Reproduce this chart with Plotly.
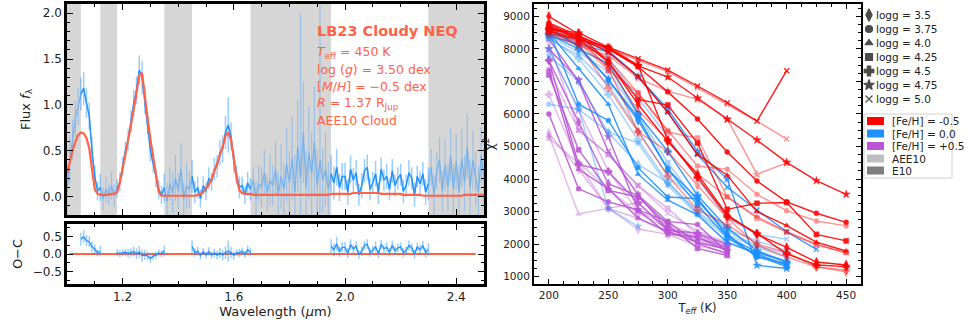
import numpy as np
import plotly.graph_objects as go

# ---- spectrum (left) ----
wave = np.round(np.arange(1.00, 2.505, 0.01), 2)

flux = [
    0.05, 0.40, 0.62, 0.85, 0.98, 1.12, 1.18, 1.02, 0.88, 0.50,
    0.22, 0.06, 0.10, -0.02, 0.08, 0.03, 0.12, 0.01, 0.09, 0.16,
    0.33, 0.50, 0.62, 0.82, 1.02, 1.16, 1.38, 1.30, 1.05, 0.80,
    0.50, 0.36, 0.20, 0.08, 0.02, 0.10, -0.05, 0.14, 0.04, 0.20,
    0.06, 0.30, -0.03, 0.12, 0.08, 0.22, 0.05, 0.10, -0.02, 0.12,
    0.06, 0.20, 0.16, 0.30, 0.33, 0.48, 0.52, 0.70, 0.78, 0.66,
    0.38, 0.24, 0.10, 0.12, 0.02, 0.15, 0.08, 0.18, -0.02, 0.14,
    0.10, 0.26, 0.04, 0.18, 0.12, 0.30, 0.02, 0.22, 0.08, 0.35,
    0.15, 0.42, 0.05, 0.55, 0.20, 0.70, 0.10, 0.48, 0.25, 0.60,
    0.12, 0.40, 0.18, 0.30, 0.08, 0.25, 0.15, 0.32, 0.10, 0.22,
    0.22, 0.05, 0.30, 0.18, 0.26, 0.02, 0.12, 0.28, 0.32, 0.08,
    0.15, 0.25, 0.04, 0.30, 0.18, 0.22, 0.08, 0.28, 0.12, 0.20,
    0.24, 0.06, 0.12, 0.26, 0.20, 0.02, 0.22, 0.14, 0.25, 0.05,
    0.14, 0.32, 0.02, 0.28, 0.40, 0.06, 0.35, 0.10, 0.45, 0.08,
    0.38, 0.05, 0.42, 0.15, 0.55, 0.10, 0.40, 0.20, 0.05, 0.45, 0.20,
]

flux_err = [
    0.30, 0.25, 0.22, 0.20, 0.20, 0.18, 0.18, 0.16, 0.15, 0.15,
    0.12, 0.10, 0.15, 0.12, 0.14, 0.12, 0.15, 0.12, 0.10, 0.10,
    0.10, 0.10, 0.12, 0.12, 0.14, 0.15, 0.16, 0.18, 0.15, 0.12,
    0.12, 0.10, 0.10, 0.10, 0.10, 0.15, 0.20, 0.18, 0.22, 0.25,
    0.20, 0.28, 0.18, 0.25, 0.20, 0.18, 0.12, 0.12, 0.10, 0.10,
    0.10, 0.12, 0.10, 0.12, 0.12, 0.14, 0.15, 0.18, 0.30, 0.15,
    0.12, 0.10, 0.12, 0.10, 0.10, 0.12, 0.12, 0.15, 0.18, 0.20,
    0.22, 0.25, 0.20, 0.28, 0.22, 0.30, 0.25, 0.35, 0.28, 0.40,
    0.35, 0.45, 0.40, 0.50, 1.80, 0.55, 0.40, 0.50, 0.45, 0.60,
    0.40, 1.70, 0.35, 0.40, 0.30, 0.20, 0.18, 0.20, 0.15, 0.15,
    0.15, 0.14, 0.15, 0.13, 0.14, 0.12, 0.14, 0.13, 0.14, 0.12,
    0.12, 0.14, 0.12, 0.13, 0.12, 0.14, 0.12, 0.13, 0.12, 0.12,
    0.12, 0.13, 0.12, 0.14, 0.12, 0.13, 0.12, 0.14, 0.13, 0.14,
    0.18, 0.20, 0.22, 0.20, 0.25, 0.22, 0.28, 0.25, 0.30, 0.28,
    0.30, 0.28, 0.32, 0.30, 0.35, 0.30, 0.32, 0.30, 0.28, 0.30, 0.28,
]

model = [
    0.25, 0.38, 0.50, 0.60, 0.67, 0.70, 0.69, 0.64, 0.53, 0.30,
    0.08, 0.03, 0.02, 0.02, 0.02, 0.02, 0.03, 0.03, 0.05, 0.15,
    0.30, 0.45, 0.60, 0.78, 0.95, 1.15, 1.32, 1.35, 1.08, 0.85,
    0.63, 0.42, 0.23, 0.05, 0.01, 0.01, 0.01, 0.01, 0.01, 0.01,
    0.01, 0.01, 0.01, 0.01, 0.01, 0.01, 0.01, 0.02, 0.03, 0.05,
    0.09, 0.13, 0.19, 0.27, 0.36, 0.45, 0.55, 0.66, 0.70, 0.62,
    0.42, 0.20, 0.07, 0.04, 0.03, 0.03, 0.03, 0.02, 0.02, 0.02,
    0.02, 0.02, 0.02, 0.02, 0.02, 0.02, 0.02, 0.02, 0.02, 0.02,
    0.02, 0.02, 0.02, 0.02, 0.02, 0.02, 0.02, 0.02, 0.02, 0.02,
    0.02, 0.02, 0.02, 0.02, 0.02, 0.03, 0.03, 0.03, 0.03, 0.03,
    0.03, 0.03, 0.03, 0.04, 0.04, 0.04, 0.04, 0.04, 0.04, 0.04,
    0.04, 0.04, 0.04, 0.03, 0.03, 0.03, 0.03, 0.03, 0.03, 0.03,
    0.03, 0.02, 0.02, 0.02, 0.02, 0.02, 0.02, 0.02, 0.01, 0.01,
    0.01, 0.01, 0.01, 0.01, 0.01, 0.01, 0.01, 0.01, 0.01, 0.01,
    0.01, 0.01, 0.01, 0.02, 0.02, 0.02, 0.02, 0.02, 0.02, 0.02, 0.02,
]

mask_bands = [(1.00, 1.05), (1.12, 1.18), (1.35, 1.45), (1.66, 1.95), (2.30, 2.50)]
fit_ranges = [(1.05, 1.12), (1.18, 1.35), (1.45, 1.66), (1.95, 2.30)]

# ---- chi2 grid (right) ----
teff = [200, 225, 250, 275, 300, 325, 350, 375, 400, 425, 450]
logg_labels = ["3.5", "3.75", "4.0", "4.25", "4.5", "4.75", "5.0"]

red_e10 = {
    "3.5": [9000, 8450, 7600, 6300, 5150, 4150, 2900, 2300, 1900, 1450, 1360],
    "3.75": [8800, 8400, 8000, 7450, 6680, 5845, 4830, 3940, 3300, 2950, 2670],
    "4.0": [8750, 8350, 7900, 7150, 6050, 4750, 4120, 3000, 2570, 2060, 1790],
    "4.25": [8700, 8300, 7600, 6450, 6275, 5107, 3070, 3255, 3280, 2300, 2100],
    "4.5": [8600, 8500, 8050, 7500, 5200, 4050, 2850, 2330, 1700, 1360, 1310],
    "4.75": [8620, 8400, 8000, 7480, 7135, 6490, 5835, 5200, 4515, 3950, 3530],
    "5.0": [8550, 8300, 8050, 7700, 7350, 6860, 6350, 5780, 7330],
}
red_aee10 = {
    "3.5": [8700, 8350, 7400, 5450, 4850, 3800, 2800, 1970, 1600, 1300, 1150],
    "3.75": [8650, 8300, 7700, 6644, 5500, 4400, 4300, 3532, 3028, 2711, 2560],
    "4.0": [8600, 8250, 7450, 6100, 5200, 4150, 3450, 2843, 2383, 2000, 1720],
    "4.25": [8550, 8200, 7350, 6644, 5446, 5261, 3458, 2800, 2370, 1974, 1750],
    "4.5": [8500, 8150, 6800, 5450, 4100, 3050, 2600, 2000, 1750, 1300, 1200],
    "4.75": [8450, 8100, 7800, 7100, 6700, 6450, 5850, 4146, 4500],
    "5.0": [8500, 8250, 8000, 7650, 7300, 6800, 6300, 5780, 5230],
}
blue_e10 = {
    "3.5": [8700, 8050, 7050, 5800, 4300, 3400, 2250, 1750, 1450],
    "3.75": [8550, 6300, 5800, 4350, 3450, 3400, 2300, 1600, 1400],
    "4.0": [8500, 7400, 6300, 4150, 3350, 2900, 2050, 1700, 1350],
    "4.25": [8600, 8100, 7050, 5900, 4300, 3200, 2200, 1650, 1300],
    "4.5": [8450, 8000, 7550, 6000, 4850, 3500, 2500, 1800, 1450],
    "4.75": [8400, 8150, 7900, 7150, 6150, 4850, 4000, 1350, 1250],
    "5.0": [8450, 8300, 7950, 7150, 6050, 4750, 3750, 3050, 2380, 1840],
}
blue_aee10 = {
    "3.5": [7800, 7000, 5430, 4450, 3900, 3000, 2300, 1900, 1600],
    "3.75": [6300, 6150, 5450, 5100, 3800, 2900, 2050, 1750, 1500],
    "4.0": [8300, 7800, 6900, 5500, 4100, 3300, 2400, 1950, 1700],
    "4.25": [8400, 7900, 7300, 6000, 4500, 3300, 2450, 2100, 1800],
    "4.5": [8350, 7700, 6600, 5200, 3900, 2950, 2200, 1650, 1400],
    "4.75": [8000, 6150, 3100, 2550],
    "5.0": [8500, 8200, 7700, 6500, 5300, 4000, 2800, 2300, 2150],
}
purple_e10 = {
    "3.5": [7650, 5750, 3850, 3500, 2450, 2200, 1900],
    "3.75": [6000, 3700, 3300, 3050, 2700, 2600, 1750],
    "4.0": [7350, 4300, 3700, 2800, 2400, 2050, 1850],
    "4.25": [7200, 4900, 3650, 3450, 2600, 1870, 1650],
    "4.5": [7650, 4450, 4226, 3273, 2434, 2333, 2000],
    "4.75": [8000, 7050, 5300, 3050, 2311, 2210, 1800],
    "5.0": [8300, 7000, 4850, 3510, 2690, 2025, 1700],
}
purple_aee10 = {
    "3.5": [5400, 4300, 3100, 2466, 2300, 1950, 1750],
    "3.75": [5250, 4484, 3100, 2795, 2350, 2100, 1800],
    "4.0": [5350, 2926, 3100, 3273, 2400, 2150, 1850],
    "4.25": [7350, 5500, 4750, 3800, 3100, 2300, 1900],
    "4.5": [6600, 4500, 3700, 2950, 2500, 2250, 1950],
    "4.75": [8000, 6100, 4250, 3000, 2600, 2300, 2000],
    "5.0": [8200, 5500, 4750, 3800, 2950, 2400, 2050],
}

feh_labels = ["[Fe/H] = -0.5", "[Fe/H] = 0.0", "[Fe/H] = +0.5"]
cloud_labels = ["AEE10", "E10"]

RED = "#ff0000"
BLUE = "#1e90ff"
PURPLE = "#ba55d3"
TOMATO = "#ff6347"
FONT = "DejaVu Sans"

symbols = {"3.5": "diamond-tall", "3.75": "circle", "4.0": "triangle-up", "4.25": "square",
           "4.5": "cross", "4.75": "star", "5.0": "x-thin"}
msizes = {"3.5": 7, "3.75": 5, "4.0": 5, "4.25": 5, "4.5": 6, "4.75": 6, "5.0": 5}

W, H = 969, 322
def px_x(p):
    return p / W
def px_y(p):
    return 1 - p / H

fig = go.Figure()

w = np.array(wave)
e = np.array(flux_err)
fit = np.zeros(len(w), dtype=bool)
for a, b in fit_ranges:
    fit |= (w >= a - 1e-6) & (w <= b + 1e-6)

# faded full spectrum (shows through the masked bands)
fig.add_trace(go.Scatter(
    x=wave, y=flux, mode="lines", xaxis="x", yaxis="y",
    line=dict(color=BLUE, width=1.3), opacity=0.5,
    error_y=dict(type="data", array=np.where(fit, 0, e), color="rgba(30,144,255,0.6)",
                 thickness=1.2, width=0),
    showlegend=False))
# fitted parts of the spectrum
fig.add_trace(go.Scatter(
    x=wave, y=[v if k else None for v, k in zip(flux, fit)], mode="lines",
    xaxis="x", yaxis="y", line=dict(color=BLUE, width=1.3),
    error_y=dict(type="data", array=e, color="rgba(30,144,255,0.45)", thickness=1.5, width=0),
    showlegend=False))
fig.add_trace(go.Scatter(
    x=wave, y=model, mode="lines", xaxis="x", yaxis="y",
    line=dict(color=TOMATO, width=2.2), showlegend=False))

# residuals
resid = [round(fv - mv, 3) if k else None for fv, mv, k in zip(flux, model, fit)]
fig.add_trace(go.Scatter(
    x=[wave[1], wave[-4]], y=[0, 0], mode="lines", xaxis="x2", yaxis="y2",
    line=dict(color=TOMATO, width=2.2), showlegend=False))
fig.add_trace(go.Scatter(
    x=wave, y=resid, mode="lines", xaxis="x2", yaxis="y2",
    line=dict(color=BLUE, width=1.3),
    error_y=dict(type="data", array=e, color="rgba(30,144,255,0.45)", thickness=1.5, width=0),
    showlegend=False))

for lo, hi in mask_bands:
    fig.add_shape(type="rect", xref="x", yref="y domain", x0=lo, x1=hi, y0=0, y1=1,
                  fillcolor="#d6d6d6", line=dict(width=0), layer="below")

# chi2 curves
groups = [(PURPLE, purple_aee10, purple_e10), (BLUE, blue_aee10, blue_e10), (RED, red_aee10, red_e10)]
for color, aee, e10 in groups:
    for data, op in [(aee, 0.42), (e10, 0.9)]:
        for lg in logg_labels:
            vals = data[lg]
            fig.add_trace(go.Scatter(
                x=teff[:len(vals)], y=vals, mode="lines+markers", xaxis="x3", yaxis="y3",
                line=dict(color=color, width=1.4), opacity=op,
                marker=dict(symbol=symbols[lg], size=msizes[lg], color=color,
                            line=dict(color=color, width=1.3 if lg == "5.0" else 0.5)),
                showlegend=False))

# legend built on a hidden axis scaled in screen pixels
leg_rows = [15, 29, 43, 57, 71, 85, 99]
fig.add_trace(go.Scatter(
    x=[869] * len(logg_labels), y=leg_rows, mode="markers", xaxis="x4", yaxis="y4",
    marker=dict(symbol=[symbols[l] for l in logg_labels], size=[msizes[l] + 2 for l in logg_labels],
                color="black", line=dict(color="black", width=1.2)),
    showlegend=False, hoverinfo="skip"))
annotations = []
for yy, lg in zip(leg_rows, logg_labels):
    annotations.append(dict(x=874, y=yy, xref="x4", yref="y4", text=f"logg = {lg}",
                            showarrow=False, xanchor="left", yanchor="middle",
                            font=dict(size=10.5, color="#222")))
fig.add_shape(type="rect", xref="x4", yref="y4", x0=864, x1=952, y0=114, y1=178,
              line=dict(color="#d0d0d0", width=1), fillcolor="white")
patch_rows = [121, 133.5, 146, 158.5, 170.5]
patch_cols = [RED, BLUE, PURPLE, "#bebebe", "#7f7f7f"]
for yy, col, lab in zip(patch_rows, patch_cols, feh_labels + cloud_labels):
    fig.add_shape(type="rect", xref="x4", yref="y4", x0=867, x1=884, y0=yy - 4, y1=yy + 4,
                  fillcolor=col, line=dict(width=0))
    annotations.append(dict(x=890, y=yy, xref="x4", yref="y4", text=lab, showarrow=False,
                            xanchor="left", yanchor="middle", font=dict(size=10.5, color="#222")))

# spectrum labels
info = ["<i>T</i><sub>eff</sub> = 450 K", "log (<i>g</i>) = 3.50 dex",
        "[<i>M</i>/<i>H</i>] = \u22120.5 dex", "<i>R</i> = 1.37 R<sub>Jup</sub>", "AEE10 Cloud"]
annotations.append(dict(x=1.893, y=1.81, xref="x", yref="y", text="<b>LB23 Cloudy NEQ</b>",
                        showarrow=False, xanchor="left", yanchor="middle",
                        font=dict(size=14.5, color=TOMATO)))
for yv, t in zip([1.57, 1.385, 1.2, 1.015, 0.83], info):
    annotations.append(dict(x=1.893, y=yv, xref="x", yref="y", text=t, showarrow=False,
                            xanchor="left", yanchor="middle", font=dict(size=12.5, color=TOMATO)))

def ax(**kw):
    base = dict(showline=True, linecolor="black", linewidth=2, mirror="allticks",
                ticks="inside", ticklen=6, tickwidth=1.3, tickcolor="black",
                showgrid=False, zeroline=False, automargin=False,
                tickfont=dict(size=12, color="#222"))
    base.update(kw)
    return base

fig.update_layout(
    width=W, height=H, autosize=False,
    margin=dict(l=0, r=0, t=0, b=0),
    paper_bgcolor="white", plot_bgcolor="white",
    font=dict(family=FONT, color="#222"),
    xaxis=ax(domain=[px_x(67), px_x(484)], anchor="y", range=[1.0, 2.5], tick0=1.2, dtick=0.4,
             showticklabels=False, linewidth=2.5,
             minor=dict(dtick=0.1, ticks="inside", ticklen=3, tickcolor="black")),
    yaxis=ax(domain=[px_y(215), px_y(4)], anchor="x", range=[-0.2, 2.1], dtick=0.5,
             tickformat=".1f", linewidth=2.5,
             minor=dict(dtick=0.1, ticks="inside", ticklen=3, tickcolor="black"),
             title=dict(text="Flux <i>f</i><sub>λ</sub>", font=dict(size=13), standoff=10)),
    xaxis2=ax(domain=[px_x(67), px_x(484)], anchor="y2", range=[1.0, 2.5], tick0=1.2, dtick=0.4,
              tickformat=".1f", linewidth=2.5,
              minor=dict(dtick=0.1, ticks="inside", ticklen=3, tickcolor="black"),
              title=dict(text="Wavelength (<i>μ</i>m)", font=dict(size=13), standoff=2)),
    yaxis2=ax(domain=[px_y(284), px_y(224)], anchor="x2", range=[-0.85, 0.85], dtick=0.5,
              tickformat=".1f", linewidth=2.5,
              minor=dict(dtick=0.25, ticks="inside", ticklen=3, tickcolor="black"),
              title=dict(text="O\u2212C", font=dict(size=13), standoff=8)),
    xaxis3=ax(domain=[px_x(534), px_x(861)], anchor="y3", range=[187.5, 462.5], dtick=50,
              ticklen=5, tickfont=dict(size=10.5, color="#222"),
              minor=dict(dtick=12.5, ticks="inside", ticklen=3, tickcolor="black"),
              title=dict(text="T<sub><i>eff</i></sub> (K)", font=dict(size=11.5), standoff=2)),
    yaxis3=ax(domain=[px_y(284), px_y(4)], anchor="x3", range=[775, 9380], dtick=1000,
              ticklen=5, tickfont=dict(size=10.5, color="#222"),
              minor=dict(dtick=250, ticks="inside", ticklen=3, tickcolor="black"),
              title=dict(text="χ<sup>2</sup>", font=dict(size=12), standoff=6)),
    xaxis4=dict(domain=[px_x(861), 1], anchor="y4", range=[861, 969], visible=False,
                fixedrange=True, automargin=False),
    yaxis4=dict(domain=[0, 1], anchor="x4", range=[322, 0], visible=False,
                fixedrange=True, automargin=False),
    annotations=annotations,
)

# drop the default 8 px body margin so the figure sits at the page corner
fig.write_html("out.html", config={"displayModeBar": False},
               post_script="document.body.style.margin='0';")
